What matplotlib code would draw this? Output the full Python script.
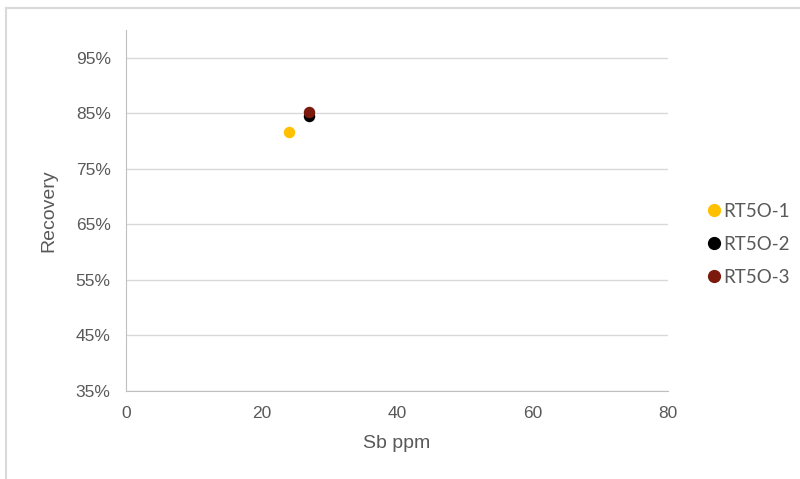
import matplotlib.pyplot as plt
from matplotlib.ticker import FuncFormatter
from matplotlib.lines import Line2D

plt.rcParams['font.family'] = ['Liberation Sans', 'DejaVu Sans']

series = ["RT5O-1", "RT5O-2", "RT5O-3"]
colors = ["#FFC000", "#000000", "#7B1A0C"]
sb_ppm = [24.0, 27.0, 27.0]
recovery = [0.816, 0.846, 0.853]

fig = plt.figure(figsize=(8, 4.79), dpi=100)
ax = fig.add_axes([0.1575, 0.1837, 0.6775, 0.7537])

for name, c, x, y in zip(series, colors, sb_ppm, recovery):
    ax.scatter([x], [y], s=68, color=c, label=name, zorder=3, linewidths=0)

ax.set_xlim(0, 80)
ax.set_ylim(0.35, 1.0)
ax.set_xticks([0, 20, 40, 60, 80])
ax.set_yticks([0.35, 0.45, 0.55, 0.65, 0.75, 0.85, 0.95])
ax.yaxis.set_major_formatter(FuncFormatter(lambda v, p: f"{v*100:.0f}%"))
ax.grid(axis='y', color='#D9D9D9', linewidth=1)
ax.set_axisbelow(True)
for s in ['top', 'right']:
    ax.spines[s].set_visible(False)
for s in ['left', 'bottom']:
    ax.spines[s].set_color('#BFBFBF')
ax.tick_params(axis='x', length=0, labelsize=12.5, colors='#595959', pad=11)
ax.tick_params(axis='y', length=0, labelsize=12.5, colors='#595959', pad=11)
ax.set_xlabel("Sb ppm", fontsize=14, color='#595959', labelpad=10)
ax.set_ylabel("Recovery", fontsize=14, color='#595959', labelpad=13)

handles = [Line2D([], [], marker='o', linestyle='', color=c, markersize=8.5) for c in colors]
fig.legend(handles, series, loc='center left', bbox_to_anchor=(0.86, 0.49),
           frameon=False, labelcolor='#595959', handletextpad=0.0,
           handlelength=1.0, labelspacing=0.85, prop={'family': ['Lato', 'DejaVu Sans'], 'size': 13.5})

# outer chart border
fig.add_artist(Line2D([0.007, 1.0], [0.983, 0.983], color='#D9D9D9', linewidth=1.5))
fig.add_artist(Line2D([0.007, 0.007], [0.0, 0.983], color='#D9D9D9', linewidth=1.5))

fig.savefig("out.png", dpi=100)
